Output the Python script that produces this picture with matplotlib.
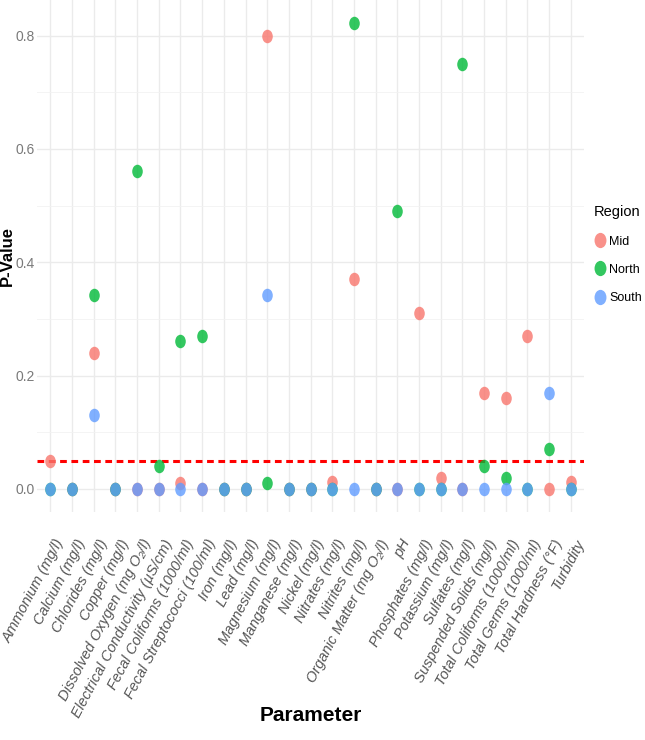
import numpy as np
import matplotlib
matplotlib.use("Agg")
from matplotlib import pyplot as plt
from matplotlib.path import Path
from matplotlib.transforms import Affine2D, ScaledTranslation
from matplotlib.lines import Line2D

parameters = ["Ammonium (mg/l)", "Calcium (mg/l)", "Chlorides (mg/l)", "Copper (mg/l)",
              "Dissolved Oxygen (mg O\u2082/l)", "Electrical Conductivity (\u00b5S/cm)",
              "Fecal Coliforms (1000/ml)", "Fecal Streptococci (100/ml)", "Iron (mg/l)",
              "Lead (mg/l)", "Magnesium (mg/l)", "Manganese (mg/l)", "Nickel (mg/l)",
              "Nitrates (mg/l)", "Nitrites (mg/l)", "Organic Matter (mg O\u2082/l)", "pH",
              "Phosphates (mg/l)", "Potassium (mg/l)", "Sulfates (mg/l)",
              "Suspended Solids (mg/l)", "Total Coliforms (1000/ml)", "Total Germs (1000/ml)",
              "Total Hardness (\u00b0F)", "Turbidity"]

mid = [0.05, 0.0, 0.24, 0.0, 0.0, 0.0, 0.011, 0.0, 0.0, 0.0, 0.80, 0.0, 0.0,
       0.012, 0.371, 0.0, 0.0, 0.31, 0.02, 0.0, 0.169, 0.16, 0.27, 0.0, 0.012]
north = [0.0, 0.0, 0.342, 0.0, 0.562, 0.041, 0.261, 0.269, 0.0, 0.0, 0.01, 0.0, 0.0,
         0.0, 0.822, 0.0, 0.49, 0.0, 0.0, 0.75, 0.04, 0.02, 0.0, 0.07, 0.0]
south = [0.0, 0.0, 0.13, 0.0, 0.0, 0.0, 0.0, 0.0, 0.0, 0.0, 0.342, 0.0, 0.0,
         0.0, 0.0, 0.0, 0.0, 0.0, 0.0, 0.0, 0.0, 0.0, 0.0, 0.17, 0.0]

regions = ["Mid", "North", "South"]
colors = ["#F8766D", "#00BA38", "#619CFF"]
threshold = 0.05

font = ["Liberation Sans", "DejaVu Sans"]

# points in the reference look a bit stretched vertically
ellipse = Path.unit_circle().transformed(Affine2D().scale(0.78, 1.0))

fig = plt.figure(figsize=(6.45, 7.4), dpi=100)
ax = fig.add_axes([0.058, 0.308, 0.847, 0.692])

x = np.arange(len(parameters))
for name, vals, col in zip(regions, [mid, north, south], colors):
    ax.scatter(x, vals, s=95, marker=ellipse, color=col, alpha=0.8,
               linewidths=0, zorder=3, label=name)

ax.axhline(threshold, color="red", linestyle=(0, (2.2, 1.5)), linewidth=2.2, zorder=2)

ax.set_xlim(-0.6, len(parameters) - 0.4)
ax.set_ylim(-0.041, 0.863)
ax.set_yticks([0.0, 0.2, 0.4, 0.6, 0.8])
ax.set_yticks([0.1, 0.3, 0.5, 0.7], minor=True)
ax.set_yticklabels(["0.0", "0.2", "0.4", "0.6", "0.8"], family=font, fontsize=10,
                   color="#7a7a7a")
ax.set_xticks(x)
ax.set_xticklabels(parameters, rotation=62, ha="right", va="top",
                   rotation_mode="anchor", family=font, style="italic",
                   fontsize=10.5, color="#555555")
ax.tick_params(axis="both", which="both", length=0)
ax.tick_params(axis="x", pad=13)
ax.tick_params(axis="y", pad=2)
# nudge the slanted labels a little right and down, like the reference
shift = ScaledTranslation(0.04, -0.07, fig.dpi_scale_trans)
for lab in ax.get_xticklabels():
    lab.set_transform(lab.get_transform() + shift)

ax.grid(True, which="major", color="#EBEBEB", linewidth=1.0)
ax.grid(True, which="minor", axis="y", color="#F2F2F2", linewidth=0.6)
ax.set_axisbelow(True)
for sp in ax.spines.values():
    sp.set_visible(False)

fig.text(0.011, 0.654, "P-Value", rotation=90, ha="center", va="center",
         family=font, fontweight="bold", fontsize=12)
fig.text(0.482, 0.033, "Parameter", ha="center", va="center",
         family=font, fontweight="bold", fontsize=15)

handles = [Line2D([], [], linestyle="none", marker=ellipse, markersize=11,
                  markerfacecolor=c, markeredgewidth=0, alpha=0.8) for c in colors]
leg = fig.legend(handles, regions, title="Region", loc="upper left",
                 bbox_to_anchor=(0.921, 0.7226), frameon=False,
                 prop={"family": font, "size": 9}, handletextpad=0.2,
                 labelspacing=1.3, handlelength=1.0, borderpad=0, borderaxespad=0)
leg.get_title().set_family(font)
leg.get_title().set_fontsize(10.5)
leg._legend_box.align = "left"

fig.savefig("out.png", dpi=100)
